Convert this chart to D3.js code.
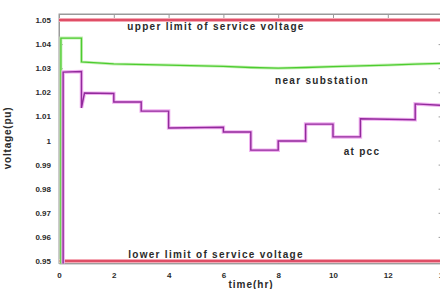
<!DOCTYPE html>
<html><head><meta charset="utf-8">
<script src="https://cdn.jsdelivr.net/npm/d3@7"></script>
<style>
html,body{margin:0;padding:0;background:#fff;}
svg{display:block;}
text{font-family:"Liberation Sans",Arial,sans-serif;font-weight:bold;fill:#2a2a2a;}
</style></head>
<body>
<svg id="c" width="440" height="289"></svg>
<script>
// ---- data ----
const xTicks = [0, 2, 4, 6, 8, 10, 12, 14];
const yTicks = [0.95, 0.96, 0.97, 0.98, 0.99, 1.00, 1.01, 1.02, 1.03, 1.04, 1.05];
const yTickLabels = ["0.95","0.96","0.97","0.98","0.99","1","1.01","1.02","1.03","1.04","1.05"];

const upperLimit = 1.05;
const lowerLimit = 0.95;

const subTime = [0.07, 0.07, 0.82, 0.82, 2, 4, 6, 7, 8, 9, 10, 11, 12, 13, 14];
const subVolt = [0.949, 1.0425, 1.0425, 1.0326, 1.0318, 1.0313, 1.0308, 1.0303, 1.0300, 1.0303, 1.0307, 1.0310, 1.0313, 1.0317, 1.0320];

const pccTime = [0.15, 0.15, 0.82, 0.82, 0.93, 2, 2, 3, 3, 4, 4, 6, 6, 7, 7, 8, 8, 9, 9, 10, 10, 11, 11, 13, 13, 14];
const pccVolt = [0.949, 1.0284, 1.0286, 1.0135, 1.0197, 1.0195, 1.0160, 1.0160, 1.0122, 1.0122, 1.0052, 1.0055, 1.0035, 1.0035, 0.9960, 0.9960, 0.9998, 0.9998, 1.0068, 1.0068, 1.0015, 1.0015, 1.0090, 1.0086, 1.0152, 1.0146];

const labels = {
  upper: "upper limit of service voltage",
  lower: "lower limit of service voltage",
  sub: "near substation",
  pcc: "at pcc",
  xTitle: "time(hr)",
  yTitle: "voltage(pu)"
};

// ---- chart ----
const svg = d3.select("#c");
const x = d3.scaleLinear().domain([0, 14]).range([59, 442.6]);
const y = d3.scaleLinear().domain([0.949, 1.0525]).range([263.4, 14]);

const axisColor = "#9a9a9a";
// box
svg.append("rect").attr("x", x(0)).attr("y", y(1.0525))
  .attr("width", x(14) - x(0)).attr("height", y(0.949) - y(1.0525))
  .attr("fill", "#fff").attr("stroke", axisColor).attr("stroke-width", 1);

// axes
const xb = svg.append("g").attr("transform", `translate(0,${y(0.949)})`)
  .call(d3.axisBottom(x).tickValues(xTicks).tickSizeInner(-4).tickSizeOuter(0).tickPadding(9));
const xt = svg.append("g").attr("transform", `translate(0,${y(1.0525)})`)
  .call(d3.axisTop(x).tickValues(xTicks).tickSizeInner(-4).tickSizeOuter(0).tickFormat(""));
const yl = svg.append("g").attr("transform", `translate(${x(0)},0)`)
  .call(d3.axisLeft(y).tickValues(yTicks).tickSizeInner(-4).tickSizeOuter(0).tickPadding(8)
    .tickFormat((d, i) => yTickLabels[i]));
const yr = svg.append("g").attr("transform", `translate(${x(14)},0)`)
  .call(d3.axisRight(y).tickValues(yTicks).tickSizeInner(-4).tickSizeOuter(0).tickFormat(""));
[xb, xt, yl, yr].forEach(g => {
  g.select(".domain").attr("stroke", axisColor);
  g.selectAll(".tick line").attr("stroke", axisColor);
  g.selectAll(".tick text").attr("font-size", 8).attr("font-family", "Liberation Sans, Arial, sans-serif")
    .attr("font-weight", "bold").attr("fill", "#333");
});

// limit lines
[upperLimit, lowerLimit].forEach(v => {
  svg.append("line").attr("x1", x(0)).attr("x2", x(14)).attr("y1", y(v)).attr("y2", y(v))
    .attr("stroke", "#f4a8b4").attr("stroke-width", 4);
  svg.append("line").attr("x1", x(0)).attr("x2", x(14)).attr("y1", y(v)).attr("y2", y(v))
    .attr("stroke", "#d8304c").attr("stroke-width", 1.6);
});

const line = d3.line().x(d => x(d[0])).y(d => y(d[1]));
const subData = subTime.map((t, i) => [t, subVolt[i]]);
const pccData = pccTime.map((t, i) => [t, pccVolt[i]]);

svg.append("path").datum(subData).attr("d", line).attr("fill", "none")
  .attr("stroke", "#c8f0b8").attr("stroke-width", 3);
svg.append("path").datum(subData).attr("d", line).attr("fill", "none")
  .attr("stroke", "#4ccc30").attr("stroke-width", 1.3);

svg.append("path").datum(pccData).attr("d", line).attr("fill", "none")
  .attr("stroke", "#f0b0f0").attr("stroke-width", 3.5);
svg.append("path").datum(pccData).attr("d", line).attr("fill", "none")
  .attr("stroke", "#922a9c").attr("stroke-width", 1.4);

// text labels
function lab(t, cx, by, ls) {
  svg.append("text").attr("x", cx).attr("y", by).attr("text-anchor", "middle")
    .attr("font-size", 10).attr("letter-spacing", ls).text(t);
}
lab(labels.upper, 216, 30, 1.3);
lab(labels.lower, 216, 258, 1.3);
lab(labels.sub, 322, 84, 1.3);
lab(labels.pcc, 362, 155, 1.3);
lab(labels.xTitle, 251, 288, 1.0);
svg.append("text").attr("transform", "translate(11,138) rotate(-90)")
  .attr("text-anchor", "middle").attr("font-size", 10).attr("letter-spacing", 0.8).text(labels.yTitle);
</script>
</body></html>
